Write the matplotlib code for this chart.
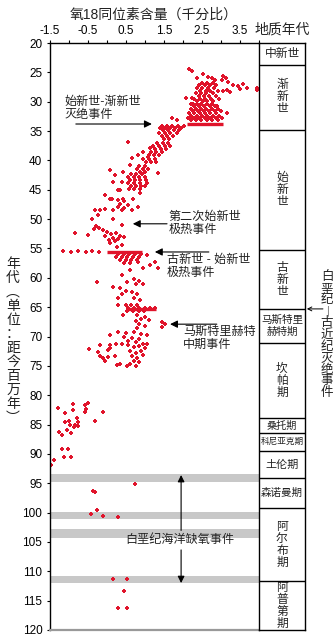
import numpy as np
import matplotlib
matplotlib.use('Agg')
from matplotlib import pyplot as plt

plt.rcParams['font.family'] = ['Liberation Sans', 'Noto Sans CJK SC']

# single readings: (age Ma, d18O permil)
oligocene_pts = [(24.4, 2.17), (24.7, 2.23), (25.2, 2.53), (25.9, 2.36), (25.8, 2.66), (26.0, 2.75),
                 (26.3, 2.85), (25.7, 3.04), (25.9, 3.13), (26.3, 3.02), (26.6, 3.18), (27.2, 3.32),
                 (27.3, 3.46), (27.0, 3.59), (27.7, 3.69), (27.6, 3.94), (28.0, 3.96), (27.9, 3.5),
                 (28.0, 3.17), (28.3, 3.24), (29.3, 2.07), (29.4, 2.23), (30.4, 2.27), (32.7, 1.7),
                 (33.1, 1.83), (31.9, 3.17), (30.8, 2.9)]
eocene_pts = [(36.8, 0.56), (37.9, 1.13), (38.5, 0.96), (39.1, 0.82), (39.4, 1.09), (39.6, 0.65),
              (40.8, 0.6), (41.9, 0.43), (41.6, 0.08), (42.5, 0.21), (42.2, 1.35), (43.6, 0.17),
              (43.6, 0.39), (45.0, 0.3), (45.9, -0.05), (46.5, 0.12), (46.5, 0.43), (46.5, 0.69),
              (45.6, 0.87), (45.0, 0.34), (46.5, 0.08), (46.8, 0.3), (47.0, 0.45), (47.5, 0.35),
              (47.6, 0.55), (48.0, 0.3), (48.1, 0.45), (48.4, -0.32), (48.4, -0.18), (48.2, -0.05),
              (48.4, 0.16), (48.4, 0.39), (48.4, 0.65), (47.9, 0.82), (49.3, -0.23), (49.9, 0.17),
              (49.9, -0.4), (51.0, 0.39), (52.4, -0.84), (52.7, -0.49), (51.2, -0.3), (51.5, -0.2),
              (51.7, -0.35), (51.8, -0.1), (52.2, 0.0), (52.5, 0.1), (52.3, 0.25), (52.8, 0.35),
              (52.9, -0.05), (53.2, 0.15), (53.4, 0.3), (53.1, 0.45), (53.6, 0.05), (53.8, 0.2),
              (54.1, 0.08), (54.7, 0.26), (54.4, 0.39), (55.5, -1.15), (55.6, -0.95), (55.5, -0.75),
              (55.6, -0.55), (55.5, -0.4), (55.6, -0.2)]
paleocene_pts = [(56.1, 1.04), (57.3, 1.26), (57.0, 0.8), (57.3, 0.82), (58.4, 0.96), (58.7, 0.6),
                 (57.8, 1.13), (58.4, 1.35), (59.5, 0.39), (60.7, 0.52), (60.2, 0.7), (60.5, 0.85),
                 (61.0, 0.95), (61.1, 0.75), (60.7, -0.27), (61.5, 0.17), (61.8, 0.35), (62.2, 0.5),
                 (62.7, 0.4), (62.5, 0.66), (62.8, 0.8), (63.4, 0.72), (63.7, 0.87), (63.5, 0.3),
                 (64.6, 0.3), (66.3, 0.43), (66.3, 0.8), (66.6, 1.0), (67.0, 0.9), (67.4, 0.75),
                 (67.2, 1.1), (67.9, 0.85), (68.2, 1.0), (68.5, 0.8), (67.5, 1.44), (67.9, 1.53),
                 (68.3, 1.44)]
maastricht_pts = [(69.3, 0.3), (69.4, 0.5), (69.2, 0.7), (69.5, 0.9), (69.8, 1.05), (70.0, 0.45),
                  (70.2, 0.65), (70.4, 0.85), (70.8, 0.55), (71.0, 0.75), (71.2, 0.95), (69.7, 0.08),
                  (71.4, -0.18), (71.5, 0.55), (71.8, 0.7), (71.6, 0.85), (71.9, 1.0), (72.4, 0.6),
                  (72.8, 0.75), (72.5, 0.9), (73.3, 0.65), (73.6, 0.8), (73.2, 0.95), (74.1, 0.7),
                  (74.4, 0.85), (75.0, 0.75), (74.7, 0.6), (71.4, 0.08), (71.9, 0.08), (71.2, 0.24),
                  (71.3, 0.39), (72.2, -0.47), (72.6, -0.23), (72.3, 0.03), (73.3, -0.18),
                  (73.7, -0.1), (74.2, -0.05), (73.5, 0.03), (73.4, 0.21), (74.9, 0.26), (74.7, 0.34),
                  (75.1, 0.52), (71.2, 1.04)]
cretaceous_pts = [(82.2, -1.28), (83.1, -1.1), (81.5, -0.9), (82.6, -0.89), (81.7, -0.58),
                  (82.3, -0.56), (82.9, -0.58), (81.3, -0.49), (82.8, -0.11), (84.5, -1.1),
                  (84.4, -0.99), (83.9, -0.8), (84.5, -0.75), (85.1, -0.84), (85.1, -0.97),
                  (85.5, -0.87), (85.9, -1.06), (85.2, -0.76), (84.4, -0.31), (86.2, -1.26),
                  (86.7, -1.19), (86.4, -0.95), (89.2, -1.19), (89.2, -1.02), (90.5, -1.13),
                  (90.5, -0.95), (91.0, -1.39), (91.9, -1.48), (95.2, 0.74), (96.3, -0.38),
                  (96.5, -0.32), (99.6, -0.26), (100.2, -0.42), (100.6, -0.11), (100.8, 0.3),
                  (111.3, 0.17), (111.3, 0.52), (113.4, 0.45), (116.3, 0.3), (116.3, 0.52)]

# densely sampled intervals: (age, d18O readings along that row)
dense_rows = [(26.8, [2.5, 2.63, 2.8]), (27.2, [2.42, 2.58, 2.7, 2.88]),
              (27.7, [2.37, 2.5, 2.66, 2.81]), (28.1, [2.45, 2.6, 2.72, 2.93, 3.05]),
              (28.6, [2.33, 2.47, 2.61, 2.78]), (29.0, [2.41, 2.55, 2.68, 2.86]),
              (29.5, [2.3, 2.44, 2.58, 2.73, 2.95]), (29.9, [2.37, 2.52, 2.64, 2.8]),
              (30.4, [2.22, 2.36, 2.48, 2.62, 2.77]), (30.8, [2.28, 2.42, 2.56, 2.7, 2.84]),
              (31.2, [2.2, 2.33, 2.47, 2.61, 2.76, 2.93]), (31.6, [2.26, 2.4, 2.54, 2.68, 2.83, 2.99]),
              (32.0, [2.16, 2.3, 2.44, 2.58, 2.72, 2.88]), (32.4, [2.22, 2.36, 2.5, 2.64, 2.79, 2.95]),
              (32.8, [2.14, 2.28, 2.42, 2.57, 2.71, 2.86, 3.02]), (33.2, [2.2, 2.34, 2.48, 2.62, 2.77, 2.92]),
              (34.1, [1.45, 1.58, 1.72, 1.86, 2.02]), (34.5, [1.4, 1.53, 1.66, 1.8, 1.95]),
              (34.9, [1.47, 1.61, 1.76, 1.9]), (35.3, [1.38, 1.52, 1.67, 1.83]),
              (35.8, [1.45, 1.59, 1.74]), (36.3, [1.5, 1.64]),
              (37.0, [1.32, 1.47, 1.6]), (37.5, [1.21, 1.36, 1.52, 1.66]),
              (38.0, [1.27, 1.41, 1.56]), (38.6, [1.15, 1.3, 1.44]), (39.1, [1.1, 1.24, 1.38]),
              (39.7, [0.96, 1.1, 1.25]), (40.2, [1.02, 1.16, 1.3]),
              (40.9, [0.85, 1.0]), (41.4, [0.8, 0.94, 1.09]), (41.9, [0.86, 1.01]),
              (42.4, [0.62, 0.76, 0.91]), (42.8, [0.55, 0.7, 0.84, 0.99]),
              (43.3, [0.6, 0.74, 0.88, 1.02]), (43.8, [0.56, 0.71, 0.86, 1.05]),
              (44.3, [0.62, 0.76, 0.9, 1.0]), (44.8, [0.58, 0.72, 0.86]),
              (56.0, [0.3, 0.44, 0.58, 0.74, 0.9]), (56.4, [0.25, 0.39, 0.53, 0.68, 0.83]),
              (56.9, [0.34, 0.49, 0.64, 0.79]), (57.4, [0.45, 0.6]),
              (64.7, [0.5, 0.64, 0.79]), (65.1, [0.56, 0.7, 0.85, 1.0, 1.14, 1.27]),
              (65.7, [0.53, 0.68, 0.83, 0.98])]

# horizontal streaks of very dense sampling: (age, d18O from, d18O to)
streaks = [(33.75, 2.1, 3.05), (55.6, 0.0, 0.92), (65.35, 0.5, 1.3)]

# geological column
stage_names = ['中新世', '渐新世', '始新世', '古新世', '马斯特里\n赫特期', '坎帕期', '桑托期',
               '科尼亚克期', '土伦期', '森诺曼期', '阿尔布期', '阿普第期']
stage_bounds = [20, 23.7, 34.8, 55.3, 65.3, 71.1, 83.9, 86.4, 89.5, 94.1, 99.2, 111.7, 120]

# oceanic anoxic event layers (age from, age to)
oae_bands = [(93.4, 94.8), (99.9, 101.1), (102.8, 104.3), (110.8, 112.0)]

# events pointed at
events = ['始新世-渐新世\n灭绝事件', '第二次始新世\n极热事件', '古新世 - 始新世\n极热事件',
          '马斯特里赫特\n中期事件']
event_ages = [33.8, 50.8, 55.6, 67.9]

red = '#e0142b'
W, H = 335, 639
fig = plt.figure(figsize=(W / 100, H / 100), dpi=100)
ax = fig.add_axes([50 / W, 9 / H, 209 / W, 587 / H])
col = fig.add_axes([259 / W, 9 / H, 46 / W, 587 / H])

for a0, a1 in oae_bands:
    ax.axhspan(a0, a1, color='#c8c8c8', lw=0, zorder=0)

pts = oligocene_pts + eocene_pts + paleocene_pts + maastricht_pts + cretaceous_pts
for age, vals in dense_rows:
    pts = pts + [(age, v) for v in vals]
ages = np.array([p[0] for p in pts])
d18o = np.array([p[1] for p in pts])
ax.scatter(d18o, ages, s=8, marker='P', color=red, linewidths=0, zorder=2)
for age, lo, hi in streaks:
    ax.plot([lo, hi], [age, age], color=red, lw=2.4, solid_capstyle='butt', zorder=2)

ax.set_xlim(-1.5, 4.0)
ax.set_ylim(120, 20)
ax.xaxis.tick_top()
ax.set_xticks(np.arange(-1.5, 3.6, 1.0))
ax.set_xticks(np.arange(-1.0, 4.01, 1.0), minor=True)
ax.set_xticklabels(['-1.5', '-0.5', '0.5', '1.5', '2.5', '3.5'])
ax.set_yticks(np.arange(20, 121, 5))
ax.tick_params(axis='both', which='both', direction='out', length=2.5, width=0.8,
               labelsize=8.5, pad=3)
ax.tick_params(axis='x', which='both', pad=2)
ax.spines['right'].set_visible(False)
ax.spines['bottom'].set_color('#999999')
ax.spines['bottom'].set_linewidth(1.6)
for s in ['left', 'top']:
    ax.spines[s].set_linewidth(1.0)

# event arrows
text_pos = [(-1.13, 29.0), (1.63, 48.6), (1.58, 55.9), (2.0, 68.1)]
arrow_from = [-0.82, 1.58, 2.68, 2.89]
arrow_to = [1.18, 0.68, 1.26, 1.66]
for lab, age, tp, x0, x1 in zip(events, event_ages, text_pos, arrow_from, arrow_to):
    ax.text(tp[0], tp[1], lab, fontsize=8.7, ha='left', va='top', color='#222222',
            linespacing=1.15, zorder=4)
    ax.annotate('', xy=(x1, age), xytext=(x0, age),
                arrowprops=dict(arrowstyle='-|>', color='black', lw=0.8,
                                mutation_scale=11, shrinkA=0, shrinkB=0))

# oceanic anoxic event span
ax.text(1.92, 104.7, '白垩纪海洋缺氧事件', fontsize=8.7, ha='center', va='center',
        color='#222222', zorder=4)
for tgt in (93.6, 112.0):
    ax.annotate('', xy=(1.95, tgt), xytext=(1.95, 104.7),
                arrowprops=dict(arrowstyle='-|>', color='black', lw=0.8,
                                mutation_scale=10, shrinkA=7, shrinkB=0))

# column of periods
col.set_xlim(0, 1)
col.set_ylim(120, 20)
col.set_xticks([])
col.set_yticks([])
for s in col.spines.values():
    s.set_linewidth(1.0)
for b in stage_bounds[1:-1]:
    col.axhline(b, color='black', lw=1.0)
stage_size = [8.5, 8.5, 8.5, 8.5, 7.6, 8.5, 7.3, 6.2, 8.0, 7.6, 8.5, 8.5]
stage_vert = [False, True, True, True, False, True, False, False, False, False, True, True]
for name, a0, a1, fs, vert in zip(stage_names, stage_bounds[:-1], stage_bounds[1:], stage_size, stage_vert):
    lab = '\n'.join(name) if vert else name
    col.text(0.5, (a0 + a1) / 2, lab, fontsize=fs, ha='center', va='center',
             color='#222222', linespacing=1.0 if vert else 1.2)

fig.text(154 / W, 1 - 15 / H, '氧18同位素含量（千分比）', fontsize=10, ha='center', va='center',
         color='#222222')
fig.text(282 / W, 1 - 30 / H, '地质年代', fontsize=10, ha='center', va='center', color='#222222')
fig.text(13 / W, 1 - 341 / H, '\n'.join('年代︵单位：距今百万年︶'), fontsize=10, ha='center',
         va='center', color='#222222', linespacing=1.0)
fig.text(327 / W, 1 - 335 / H, '\n'.join('白垩纪') + '\n︱\n' + '\n'.join('古近纪灭绝事件'),
         fontsize=9, ha='center', va='center', color='#222222', linespacing=0.95)
col.annotate('', xy=(1.04, 65.3), xytext=(1.39, 65.3), annotation_clip=False,
             arrowprops=dict(arrowstyle='->', color='black', lw=0.7, mutation_scale=7,
                             shrinkA=0, shrinkB=0))

fig.savefig('out.png', dpi=100)
